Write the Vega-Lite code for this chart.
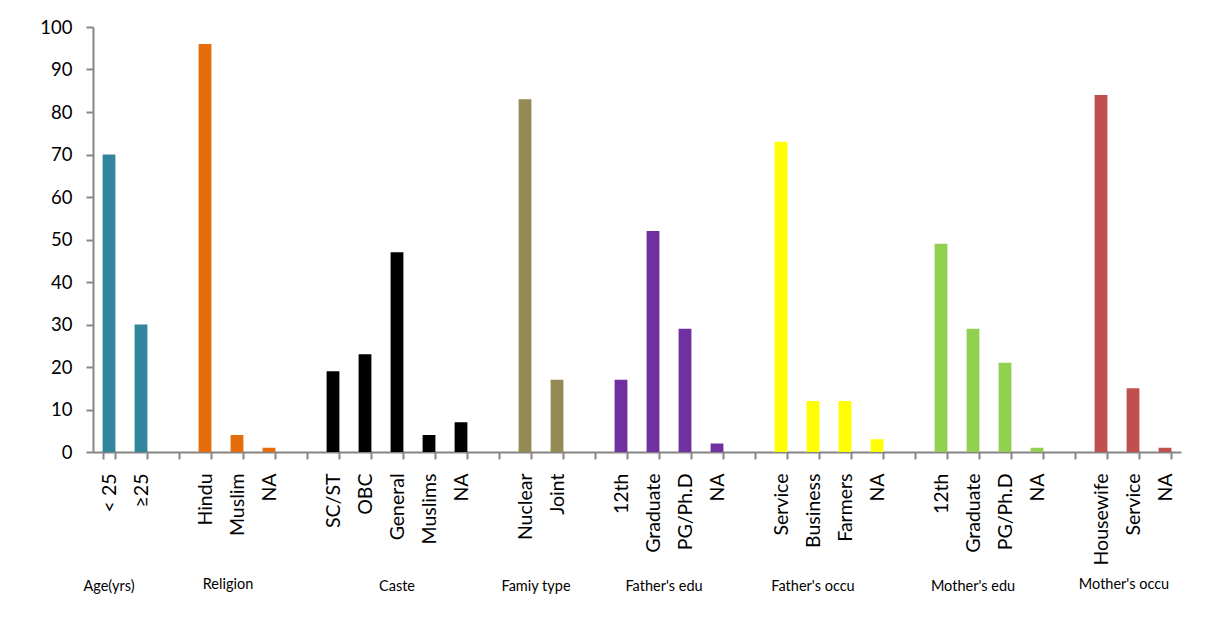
{
  "$schema": "https://vega.github.io/schema/vega-lite/v6.json",
  "width": 1088,
  "height": 425,
  "autosize": {"type": "none"},
  "padding": {"left": 93, "top": 27, "right": 26, "bottom": 173},
  "background": "white",
  "config": {
    "view": {"stroke": null},
    "font": "Lato",
    "axis": {"labelFont": "Lato", "labelColor": "black", "domainColor": "#868686", "tickColor": "#868686", "domainWidth": 2, "tickWidth": 2, "grid": false}
  },
  "layer": [
    {
      "data": {"values": [
        {"key": "a1|< 25", "group": "Age", "value": 70},
        {"key": "a2|≥25", "group": "Age", "value": 30},
        {"key": "r1|Hindu", "group": "Religion", "value": 96},
        {"key": "r2|Muslim", "group": "Religion", "value": 4},
        {"key": "r3|NA", "group": "Religion", "value": 1},
        {"key": "c1|SC/ST", "group": "Caste", "value": 19},
        {"key": "c2|OBC", "group": "Caste", "value": 23},
        {"key": "c3|General", "group": "Caste", "value": 47},
        {"key": "c4|Muslims", "group": "Caste", "value": 4},
        {"key": "c5|NA", "group": "Caste", "value": 7},
        {"key": "f1|Nuclear", "group": "Family", "value": 83},
        {"key": "f2|Joint", "group": "Family", "value": 17},
        {"key": "fe1|12th", "group": "FatherEdu", "value": 17},
        {"key": "fe2|Graduate", "group": "FatherEdu", "value": 52},
        {"key": "fe3|PG/Ph.D", "group": "FatherEdu", "value": 29},
        {"key": "fe4|NA", "group": "FatherEdu", "value": 2},
        {"key": "fo1|Service", "group": "FatherOccu", "value": 73},
        {"key": "fo2|Business", "group": "FatherOccu", "value": 12},
        {"key": "fo3|Farmers", "group": "FatherOccu", "value": 12},
        {"key": "fo4|NA", "group": "FatherOccu", "value": 3},
        {"key": "me1|12th", "group": "MotherEdu", "value": 49},
        {"key": "me2|Graduate", "group": "MotherEdu", "value": 29},
        {"key": "me3|PG/Ph.D", "group": "MotherEdu", "value": 21},
        {"key": "me4|NA", "group": "MotherEdu", "value": 1},
        {"key": "mo1|Housewife", "group": "MotherOccu", "value": 84},
        {"key": "mo2|Service", "group": "MotherOccu", "value": 15},
        {"key": "mo3|NA", "group": "MotherOccu", "value": 1}
      ]},
      "mark": {"type": "bar"},
      "encoding": {
        "x": {
          "field": "key", "type": "nominal",
          "scale": {
            "domain": ["a1|< 25", "a2|≥25", "g1|", "r1|Hindu", "r2|Muslim", "r3|NA", "g2|", "c1|SC/ST", "c2|OBC", "c3|General", "c4|Muslims", "c5|NA", "g3|", "f1|Nuclear", "f2|Joint", "g4|", "fe1|12th", "fe2|Graduate", "fe3|PG/Ph.D", "fe4|NA", "g5|", "fo1|Service", "fo2|Business", "fo3|Farmers", "fo4|NA", "g6|", "me1|12th", "me2|Graduate", "me3|PG/Ph.D", "me4|NA", "g7|", "mo1|Housewife", "mo2|Service", "mo3|NA"],
            "paddingInner": 0.6, "paddingOuter": 0.3
          },
          "axis": {
            "title": null,
            "labelExpr": "split(datum.value, '|')[1]",
            "labelAngle": -90,
            "labelAlign": "right",
            "labelBaseline": "middle",
            "labelFontSize": 19.5,
            "labelPadding": 14,
            "tickSize": 7,
            "tickBand": "extent"
          }
        },
        "y": {
          "field": "value", "type": "quantitative",
          "scale": {"domain": [0, 100]},
          "axis": {"title": null, "values": [0, 10, 20, 30, 40, 50, 60, 70, 80, 90, 100], "labelFontSize": 18.5, "labelPadding": 14, "tickSize": 7}
        },
        "color": {
          "field": "group", "type": "nominal", "legend": null,
          "scale": {
            "domain": ["Age", "Religion", "Caste", "Family", "FatherEdu", "FatherOccu", "MotherEdu", "MotherOccu"],
            "range": ["#31859C", "#E46C0A", "#000000", "#948A54", "#7030A0", "#FFFF00", "#92D050", "#C0504D"]
          }
        }
      }
    },
    {
      "data": {"values": [
        {"text": "Age(yrs)", "key": "a1|< 25"},
        {"text": "Caste", "key": "c3|General"},
        {"text": "Father's occu", "key": "fo2|Business"},
        {"text": "Mother's edu", "key": "me2|Graduate"}
      ]},
      "mark": {"type": "text", "fontSize": 14.5, "color": "black", "dy": 135, "align": "center", "baseline": "middle"},
      "encoding": {"x": {"field": "key", "type": "nominal"}, "y": {"datum": 0}, "text": {"field": "text"}}
    },
    {
      "data": {"values": [
        {"text": "Religion", "key": "r2|Muslim"},
        {"text": "Mother's occu", "key": "mo2|Service"}
      ]},
      "mark": {"type": "text", "fontSize": 14.5, "color": "black", "dy": 133, "dx": -9, "align": "center", "baseline": "middle"},
      "encoding": {"x": {"field": "key", "type": "nominal"}, "y": {"datum": 0}, "text": {"field": "text"}}
    },
    {
      "data": {"values": [
        {"text": "Famiy  type", "key": "f1|Nuclear"},
        {"text": "Father's edu", "key": "fe2|Graduate"}
      ]},
      "mark": {"type": "text", "fontSize": 14.5, "color": "black", "dy": 135, "dx": 11, "align": "center", "baseline": "middle"},
      "encoding": {"x": {"field": "key", "type": "nominal"}, "y": {"datum": 0}, "text": {"field": "text"}}
    }
  ]
}
